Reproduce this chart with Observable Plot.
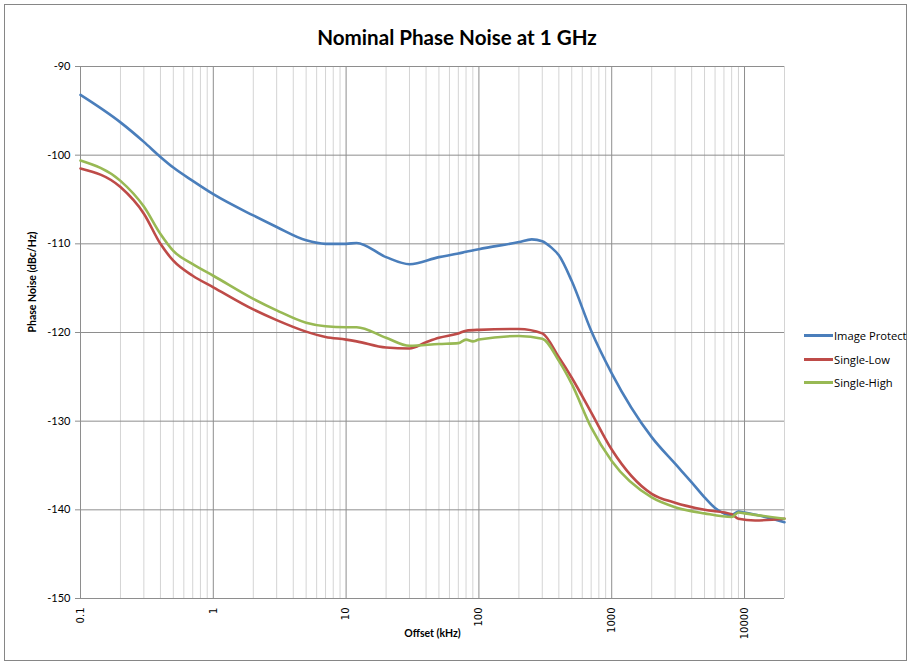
<!DOCTYPE html>
<html>
<head>
<meta charset="utf-8">
<script src="https://cdn.jsdelivr.net/npm/d3@7"></script>
<script src="https://cdn.jsdelivr.net/npm/@observablehq/plot@0.6"></script>
<style>
  body { margin: 0; background: #fff; }
  #wrap { position: relative; width: 914px; height: 666px; overflow: hidden; }
  #border { position: absolute; left: 4px; top: 4px; width: 903px; height: 657px; border: 1px solid #868686; box-sizing: border-box; pointer-events: none; }
  #title { height: 55px; line-height: 74px; text-align: center; font-family: Lato, sans-serif; font-weight: bold; font-size: 20.6px; color: #000; }
  #legend { position: absolute; left: 804px; top: 324px; font-family: "Open Sans", sans-serif; font-size: 11.2px; color: #000; }
  .li { display: flex; align-items: center; height: 23.5px; }
  .sw { width: 29px; height: 3px; margin-right: 1px; }
</style>
</head>
<body>
<div id="wrap">
  <div id="border"></div>
  <div id="title">Nominal Phase Noise at 1 GHz</div>
  <div id="chart"></div>
  <div id="legend"></div>
</div>
<script>
// ---- Data ----
const seriesNames = ["Image Protect", "Single-Low", "Single-High"];
const seriesColors = ["#4A7EBB", "#BE4B48", "#98B954"];

const imageProtectOffset = [0.1,0.2,0.3,0.4,0.5,0.7,1,2,3,5,7,10,12,20,30,50,70,80,100,200,250,300,350,400,500,700,1000,2000,3000,4000,5000,6000,8000,9000,10000,20000];
const imageProtectNoise  = [-93.2,-96.3,-98.5,-100.2,-101.4,-102.9,-104.4,-106.8,-108.1,-109.6,-110.0,-110.0,-109.9,-111.5,-112.3,-111.5,-111.1,-110.9,-110.6,-109.8,-109.5,-109.7,-110.4,-111.3,-114.2,-119.8,-124.6,-131.8,-134.8,-136.9,-138.6,-139.8,-140.6,-140.2,-140.3,-141.4];

const singleLowOffset = [0.1,0.2,0.3,0.4,0.5,0.7,1,2,3,5,7,10,12,20,30,40,50,70,80,100,200,300,400,500,700,1000,2000,3000,5000,8000,9000,12000,20000];
const singleLowNoise  = [-101.5,-103.6,-106.6,-110.0,-111.9,-113.6,-114.9,-117.4,-118.6,-119.9,-120.5,-120.8,-121.0,-121.7,-121.8,-121.1,-120.6,-120.1,-119.8,-119.7,-119.6,-120.1,-122.8,-125.1,-129.0,-133.2,-138.2,-139.2,-140.0,-140.5,-141.0,-141.2,-141.0];

const singleHighOffset = [0.1,0.2,0.3,0.4,0.5,0.7,1,2,3,5,7,10,12,20,30,50,70,80,90,100,200,300,400,500,700,1000,2000,3000,5000,8000,9000,10000,20000];
const singleHighNoise  = [-100.6,-102.9,-105.8,-108.9,-110.8,-112.3,-113.6,-116.2,-117.5,-118.9,-119.3,-119.4,-119.4,-120.6,-121.5,-121.3,-121.2,-120.8,-121.0,-120.8,-120.4,-120.7,-123.2,-125.8,-130.7,-134.5,-138.6,-139.7,-140.4,-140.8,-140.3,-140.4,-141.0];

const xTickLabels = [0.1, 1, 10, 100, 1000, 10000];
const xMinorGrid = [0.2,0.3,0.4,0.5,0.6,0.7,0.8,0.9,2,3,4,5,6,7,8,9,20,30,40,50,60,70,80,90,200,300,400,500,600,700,800,900,2000,3000,4000,5000,6000,7000,8000,9000,20000];
const yTickLabels = [-150, -140, -130, -120, -110, -100, -90];
const xDomain = [0.1, 20000];
const yDomain = [-150, -90];
const xTitle = "Offset (kHz)";
const yTitle = "Phase Noise (dBc/Hz)";

// ---- Build table ----
const offsets = [imageProtectOffset, singleLowOffset, singleHighOffset];
const noises = [imageProtectNoise, singleLowNoise, singleHighNoise];
const data = [];
seriesNames.forEach((name, i) => {
  offsets[i].forEach((f, j) => data.push({series: name, offset: f, noise: noises[i][j]}));
});

const plot = Plot.plot({
  width: 914,
  height: 611,
  marginTop: 11,
  marginLeft: 80,
  marginRight: 130,
  marginBottom: 68,
  x: {type: "log", domain: xDomain},
  y: {domain: yDomain},
  color: {domain: seriesNames, range: seriesColors},
  style: {fontFamily: "Lato, sans-serif", fontSize: "11px", color: "#000", background: "transparent"},
  marks: [
    Plot.gridX(xMinorGrid, {stroke: "#d4d4d4", strokeOpacity: 1}),
    Plot.gridX(xTickLabels, {stroke: "#8e8e8e", strokeOpacity: 1}),
    Plot.gridY(yTickLabels, {stroke: "#8e8e8e", strokeOpacity: 1}),
    Plot.ruleX([xDomain[0]], {stroke: "#8e8e8e"}),
    Plot.ruleY([yDomain[0]], {stroke: "#8e8e8e"}),
    Plot.line(data, {x: "offset", y: "noise", z: "series", stroke: "series", strokeWidth: 2.6, curve: "monotone-x"}),
    Plot.axisY(yTickLabels, {tickSize: 5, tickPadding: 5, label: null, stroke: "#8e8e8e", fontSize: 11, tickFormat: d => String(d)}),
    Plot.axisX(xTickLabels, {tickSize: 0, tickPadding: 9, tickRotate: -90, tickFormat: d => String(d), label: null, fontFamily: "DejaVu Sans, sans-serif", fontSize: 10}),
    Plot.text([xTitle], {frameAnchor: "bottom", dy: 38, text: d => d, fontWeight: "bold", fontSize: 10.5}),
    Plot.text([yTitle], {frameAnchor: "left", dx: -48, rotate: -90, text: d => d, fontWeight: "bold", fontSize: 10.5})
  ]
});
document.getElementById("chart").appendChild(plot);

// legend
const legend = document.getElementById("legend");
seriesNames.forEach((name, i) => {
  const row = document.createElement("div");
  row.className = "li";
  const sw = document.createElement("span");
  sw.className = "sw";
  sw.style.background = seriesColors[i];
  const tx = document.createElement("span");
  tx.textContent = name;
  row.appendChild(sw);
  row.appendChild(tx);
  legend.appendChild(row);
});
</script>
</body>
</html>
